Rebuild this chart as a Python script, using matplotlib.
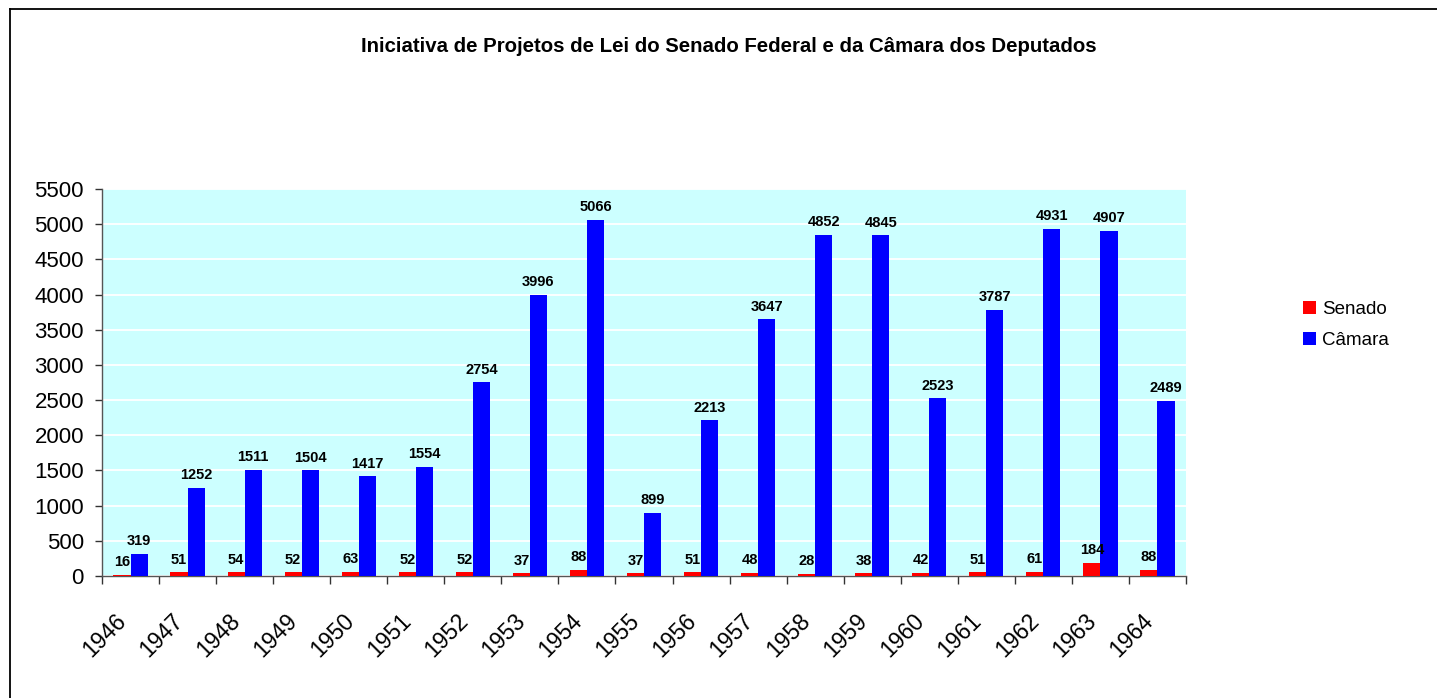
import matplotlib
matplotlib.use("Agg")
import matplotlib.pyplot as plt
from matplotlib.lines import Line2D
import numpy as np

years = ["1946", "1947", "1948", "1949", "1950", "1951", "1952", "1953", "1954", "1955",
         "1956", "1957", "1958", "1959", "1960", "1961", "1962", "1963", "1964"]
senado = [16, 51, 54, 52, 63, 52, 52, 37, 88, 37, 51, 48, 28, 38, 42, 51, 61, 184, 88]
camara = [319, 1252, 1511, 1504, 1417, 1554, 2754, 3996, 5066, 899, 2213, 3647, 4852,
          4845, 2523, 3787, 4931, 4907, 2489]
yticks = [0, 500, 1000, 1500, 2000, 2500, 3000, 3500, 4000, 4500, 5000, 5500]
title = "Iniciativa de Projetos de Lei do Senado Federal e da Câmara dos Deputados"

plt.rcParams['font.family'] = ['Liberation Sans', 'DejaVu Sans']

W, H = 1437, 698
fig = plt.figure(figsize=(W / 100, H / 100), dpi=100)
ax = fig.add_axes([102 / W, 1 - 576 / H, (1186 - 102) / W, (576 - 189) / H])
ax.set_facecolor('#CCFFFF')

x = np.arange(len(years))
bw = 0.3
b1 = ax.bar(x - bw / 2, senado, bw, color='#FF0000', label='Senado', zorder=3)
b2 = ax.bar(x + bw / 2, camara, bw, color='#0000FF', label='Câmara', zorder=3)

lab_font = dict(fontweight='bold', fontsize=10.5)
for bars, vals in ((b1, senado), (b2, camara)):
    for r, v in zip(bars, vals):
        ax.annotate(str(v), (r.get_x() + r.get_width() / 2, r.get_height()),
                    xytext=(0, 4), textcoords='offset points', ha='center', va='bottom',
                    zorder=4, **lab_font)

ax.set_xlim(-0.5, len(years) - 0.5)
ax.set_ylim(0, 5500)
ax.set_yticks(yticks)
ax.set_yticklabels([str(t) for t in yticks], fontsize=16)
ax.yaxis.grid(True, color='white', linewidth=1.3, zorder=1)
ax.set_axisbelow(True)

ax.set_xticks(np.arange(len(years) + 1) - 0.5)
ax.set_xticklabels([])
ax.set_xticks(x, minor=True)
ax.set_xticklabels(years, minor=True, rotation=45, ha='right', va='top',
                   rotation_mode='default', fontsize=16.5)
ax.tick_params(axis='x', which='major', length=6, width=1, color='#333333', direction='out')
ax.tick_params(axis='x', which='minor', length=0, pad=24)
ax.tick_params(axis='y', length=5, width=1, color='#333333', pad=8)

for s in ('top', 'right'):
    ax.spines[s].set_visible(False)
for s in ('left', 'bottom'):
    ax.spines[s].set_color('#555555')
    ax.spines[s].set_linewidth(1)

fig.text(729 / W, 1 - 46 / H, title, ha='center', va='center',
         fontweight='bold', fontsize=14.7)

fig.legend(handles=[b1, b2], labels=['Senado', 'Câmara'], loc='center left',
           bbox_to_anchor=(1286 / W, 1 - 325 / H), frameon=False, fontsize=13.5,
           handlelength=0.7, handleheight=0.7, handletextpad=0.3, labelspacing=0.75)

# figure border (top and left edges visible)
fig.add_artist(Line2D([10 / W, 10 / W], [0, 1 - 9 / H], transform=fig.transFigure,
                      color='black', linewidth=1.3))
fig.add_artist(Line2D([10 / W, 1], [1 - 9 / H, 1 - 9 / H], transform=fig.transFigure,
                      color='black', linewidth=1.3))

fig.savefig('out.png', dpi=100)
